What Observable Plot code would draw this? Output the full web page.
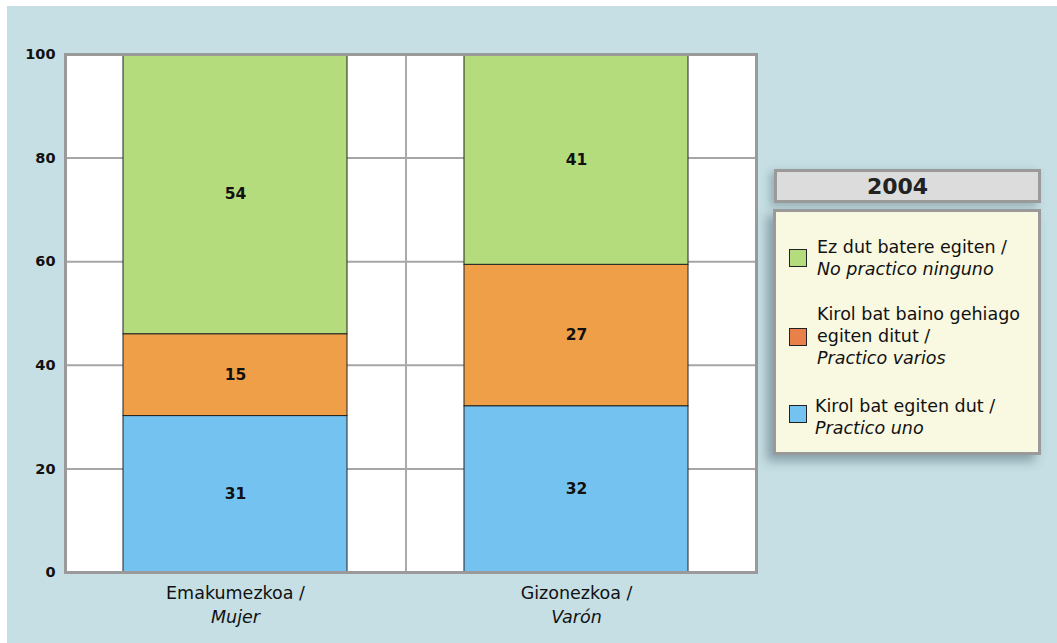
<!DOCTYPE html>
<html>
<head>
<meta charset="utf-8">
<script src="https://cdn.jsdelivr.net/npm/d3@7"></script>
<script src="https://cdn.jsdelivr.net/npm/@observablehq/plot@0.6"></script>
<style>
  html, body { margin: 0; padding: 0; background: #ffffff; width: 1057px; height: 643px; overflow: hidden; font-family: "DejaVu Sans", sans-serif; }
  #bg { position: absolute; left: 7px; top: 6px; width: 1050px; height: 637px; background: #c5dfe4; }
  #chart { position: absolute; left: 0; top: 0; }
  #title { position: absolute; left: 774px; top: 169px; width: 261px; height: 28px; background: #dcdcdc; border: 3px solid #9a9a9a;
           font-weight: bold; font-size: 22px; line-height: 29px; text-align: center; color: #222; box-shadow: -4px 3px 8px rgba(60,80,90,0.35); }
  #title span { position: relative; left: -10px; }
  #legend { position: absolute; left: 773px; top: 209px; width: 262px; height: 240px; background: #f9f8e1; border: 3px solid #9a9a9a;
            box-shadow: -6px 6px 10px rgba(60,80,90,0.45); }
  .sw { position: absolute; width: 16px; height: 16px; border: 1px solid #222; }
  .lt { position: absolute; font-size: 17.5px; line-height: 22px; color: #111; white-space: nowrap; }
  .lt i { font-style: italic; }
</style>
</head>
<body>
<div id="bg"></div>
<div id="chart"></div>
<div id="title"><span></span></div>
<div id="legend"></div>
<script>
// ---- data ----
const categories = ["Emakumezkoa", "Gizonezkoa"];
const catLine1 = ["Emakumezkoa /", "Gizonezkoa /"];
const catLine2 = ["Mujer", "Varón"];
const series = ["uno", "varios", "ninguno"]; // bottom to top
const seriesColors = ["#74c2f0", "#ef9f47", "#b5dc7c"];
const legendSwatchColors = ["#b5dc7c", "#e8804a", "#74c2f0"];
const valuesUno = [30.2, 32.1];
const valuesVarios = [15.8, 27.3];
const valuesNinguno = [54.0, 40.6];
const labelsUno = ["31", "32"];
const labelsVarios = ["15", "27"];
const labelsNinguno = ["54", "41"];
const yTicks = [0, 20, 40, 60, 80, 100];
const legendTitle = "2004";
const legendLine1 = ["Ez dut batere egiten /", "Kirol bat baino gehiago\negiten ditut /", "Kirol bat egiten dut /"];
const legendLine2 = ["No practico ninguno", "Practico varios", "Practico uno"];

// ---- table ----
const valueSets = [valuesUno, valuesVarios, valuesNinguno];
const labelSets = [labelsUno, labelsVarios, labelsNinguno];
const data = [];
categories.forEach((c, ci) => {
  series.forEach((s, si) => {
    data.push({cat: c, series: s, value: valueSets[si][ci], label: labelSets[si][ci]});
  });
});

const W = 1057, H = 643;
const xRange = [64.5, 746.5];
const step = (xRange[1] - xRange[0]) / categories.length;

const chart = Plot.plot({
  width: W,
  height: H,
  marginLeft: 65,
  marginRight: 301,
  marginTop: 54,
  marginBottom: 71,
  style: { background: "transparent", fontFamily: "DejaVu Sans, sans-serif", fontSize: "14px" },
  x: { domain: categories, range: xRange, paddingInner: 0.343, paddingOuter: 0.1715, align: 0.5, axis: null },
  y: { domain: [0, 100], axis: null },
  color: { domain: series, range: seriesColors },
  marks: [
    Plot.frame({ fill: "white", stroke: "none" }),
    Plot.gridY(yTicks.filter(t => t > 0 && t < 100), { stroke: "#a6a6a6", strokeOpacity: 1, strokeWidth: 2 }),
    Plot.ruleX([categories[1]], { x: d => d, dx: -step / 2, stroke: "#aaaaaa", strokeWidth: 2 }),
    Plot.barY(data, { x: "cat", y: "value", fill: "series", stroke: "#222", strokeWidth: 1 }),
    Plot.text(data, Plot.stackY({ x: "cat", y: "value", z: "series", text: "label", fontWeight: "bold", fontSize: 15.5, fill: "#111" })),
    Plot.text(yTicks, { y: d => d, text: d => String(d), frameAnchor: "left", textAnchor: "end", dx: -10, fontWeight: "bold", fontSize: 14.5, fill: "#111" }),
    Plot.text(categories, { x: d => d, text: (d, i) => catLine1[i], frameAnchor: "bottom", lineAnchor: "bottom", dy: 26, fontSize: 17.5, fill: "#111" }),
    Plot.text(categories, { x: d => d, text: (d, i) => catLine2[i], frameAnchor: "bottom", lineAnchor: "bottom", dy: 50, fontSize: 17.5, fontStyle: "italic", fill: "#111" }),
    Plot.frame({ stroke: "#9a9a9a", strokeWidth: 3 })
  ]
});
document.getElementById("chart").appendChild(chart);

// ---- legend ----
document.querySelector("#title span").textContent = legendTitle;
const legend = document.getElementById("legend");
const swTops = [37, 116, 193];
const textTops = [24, 91, 183];
const textLefts = [41, 41, 39];
legendLine1.forEach((l1, i) => {
  const sw = document.createElement("div");
  sw.className = "sw";
  sw.style.left = "13px";
  sw.style.top = swTops[i] + "px";
  sw.style.background = legendSwatchColors[i];
  legend.appendChild(sw);
  const t = document.createElement("div");
  t.className = "lt";
  t.style.left = textLefts[i] + "px";
  t.style.top = textTops[i] + "px";
  l1.split("\n").forEach(part => {
    const d = document.createElement("div");
    d.textContent = part;
    t.appendChild(d);
  });
  const it = document.createElement("div");
  const ie = document.createElement("i");
  ie.textContent = legendLine2[i];
  it.appendChild(ie);
  t.appendChild(it);
  legend.appendChild(t);
});
</script>
</body>
</html>
